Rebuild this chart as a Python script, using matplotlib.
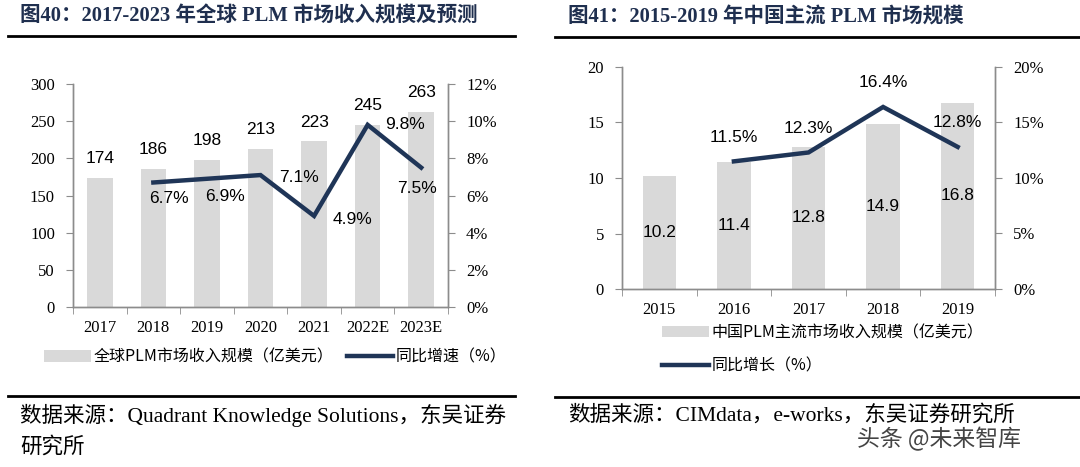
import numpy as np
import matplotlib
matplotlib.use("Agg")
import matplotlib.pyplot as plt
from matplotlib.lines import Line2D

# ---- data ----
years_a = ["2017", "2018", "2019", "2020", "2021", "2022E", "2023E"]
size_a = [174, 186, 198, 213, 223, 245, 263]
growth_a = [None, 6.7, 6.9, 7.1, 4.9, 9.8, 7.5]

years_b = ["2015", "2016", "2017", "2018", "2019"]
size_b = [10.2, 11.4, 12.8, 14.9, 16.8]
growth_b = [None, 11.5, 12.3, 16.4, 12.8]

BAR = "#D9D9D9"
LINE = "#1F3557"
NAVY = "#1F2F4F"
GRID = "#8C8C8C"
SERIF = ["Liberation Serif", "Noto Sans CJK SC"]
SANS = ["Liberation Sans", "Noto Sans CJK SC"]
CJK = ["Noto Sans CJK SC", "Liberation Serif"]

W, H = 1080, 467
fig = plt.figure(figsize=(W / 100, H / 100), dpi=100)


def px_box(x0, y0, x1, y1):
    return [x0 / W, 1 - y1 / H, (x1 - x0) / W, (y1 - y0) / H]


def style_axes(ax, ax2, n):
    for a in (ax, ax2):
        a.spines["top"].set_visible(False)
        for s in ("left", "right", "bottom"):
            a.spines[s].set_color(GRID)
            a.spines[s].set_linewidth(1)
    ax.set_xlim(-0.5, n - 0.5)
    ax.set_xticks(range(n))
    ax.set_xticks(np.arange(-0.5, n, 1), minor=True)
    ax.tick_params(axis="x", which="major", length=0, pad=9)
    ax.tick_params(axis="x", which="minor", length=5, color=GRID, direction="out")
    ax.tick_params(axis="y", length=5, color=GRID, direction="out", pad=8)
    ax2.tick_params(axis="y", length=5, color=GRID, direction="out", pad=8)
    for lab in ax.get_xticklabels() + ax.get_yticklabels() + ax2.get_yticklabels():
        lab.set_fontfamily(SERIF)
        lab.set_fontsize(12)


def rule(x0, x1, y, lw=2.0):
    fig.add_artist(Line2D([x0 / W, x1 / W], [1 - y / H, 1 - y / H],
                          color="black", lw=lw, transform=fig.transFigure))


# ================= left chart =================
ax = fig.add_axes(px_box(73, 84, 448, 307))
ax2 = ax.twinx()
x = np.arange(len(years_a))
bars = ax.bar(x, size_a, width=0.48, color=BAR, zorder=1)
ax.set_ylim(0, 300)
ax.set_yticks(range(0, 301, 50))
ax.set_xticklabels(years_a)
gx = [i for i, g in enumerate(growth_a) if g is not None]
gy = [g for g in growth_a if g is not None]
ln, = ax2.plot(gx, gy, color=LINE, lw=3.2, solid_joinstyle="miter")
ax2.set_ylim(0, 12)
ax2.set_yticks(range(0, 13, 2))
ax2.set_yticklabels([f"{v}%" for v in range(0, 13, 2)])
style_axes(ax, ax2, len(years_a))

for i, v in enumerate(size_a):
    ax.annotate(f"{v}", (i, v), xytext=(0, 19), textcoords="offset pixels",
                ha="center", va="center", fontsize=12.5, family=SANS)
offs_a = [(16, -16), (18, -18), (38, -2), (38, -4), (37, 0), (-4, -21)]
for (i, g), (dx, dy) in zip(zip(gx, gy), offs_a):
    ax2.annotate(f"{g}%", (i, g), xytext=(dx, dy), textcoords="offset pixels",
                 ha="center", va="center", fontsize=12.5, family=SANS)

fig.legend([bars, ln], ["全球PLM市场收入规模（亿美元）", "同比增速（%）"],
           loc="center left", bbox_to_anchor=(38 / W, 1 - 357 / H), ncol=2,
           frameon=False, prop={"family": CJK, "size": 11.5},
           handlelength=2.9, handletextpad=0.2, columnspacing=0.8,
           borderaxespad=0)

# ================= right chart =================
bx = fig.add_axes(px_box(622, 67, 995, 289))
bx2 = bx.twinx()
x = np.arange(len(years_b))
bars_b = bx.bar(x, size_b, width=0.45, color=BAR, zorder=1)
bx.set_ylim(0, 20)
bx.set_yticks(range(0, 21, 5))
bx.set_xticklabels(years_b)
gx = [i for i, g in enumerate(growth_b) if g is not None]
gy = [g for g in growth_b if g is not None]
ln_b, = bx2.plot(gx, gy, color=LINE, lw=3.2, solid_joinstyle="miter")
bx2.set_ylim(0, 20)
bx2.set_yticks(range(0, 21, 5))
bx2.set_yticklabels([f"{v}%" for v in range(0, 21, 5)])
style_axes(bx, bx2, len(years_b))

for i, v in enumerate(size_b):
    bx.annotate(f"{v}", (i, v / 2), ha="center", va="center",
                fontsize=12.5, family=SANS)
for i, g in zip(gx, gy):
    bx2.annotate(f"{g}%", (i, g), xytext=(0, 24), textcoords="offset pixels",
                 ha="center", va="center", fontsize=12.5, family=SANS)

fig.legend([bars_b, ln_b], ["中国PLM主流市场收入规模（亿美元）", "同比增长（%）"],
           loc="upper left", bbox_to_anchor=(656 / W, 1 - 318 / H), ncol=1,
           frameon=False, prop={"family": CJK, "size": 11.5},
           handlelength=2.9, handletextpad=0.2, labelspacing=1.0,
           borderaxespad=0)

# ================= titles, rules, sources =================
fig.text(20 / W, 1 - 17 / H, "图40：2017-2023 年全球 PLM 市场收入规模及预测",
         family=SERIF, weight="bold", fontsize=14.8, color=NAVY, va="center")
fig.text(568 / W, 1 - 17 / H, "图41：2015-2019 年中国主流 PLM 市场规模",
         family=SERIF, weight="bold", fontsize=14.8, color=NAVY, va="center")
rule(8, 515, 36)
rule(555, 1080, 37)
rule(8, 515, 396)
rule(555, 1080, 397)

fig.text(20 / W, 1 - 415 / H, "数据来源：Quadrant Knowledge Solutions，东吴证券",
         family=SERIF, fontsize=15.5, va="center")
fig.text(20 / W, 1 - 447 / H, "研究所", family=SERIF, fontsize=15.5, va="center")
fig.text(568 / W, 1 - 415 / H, "数据来源：CIMdata，e-works，东吴证券研究所",
         family=SERIF, fontsize=15.5, va="center")
fig.text(857 / W, 1 - 439 / H, "头条 @未来智库", family=CJK, fontsize=16.5,
         color="#444444", va="center")

fig.savefig("out.png", dpi=100)
